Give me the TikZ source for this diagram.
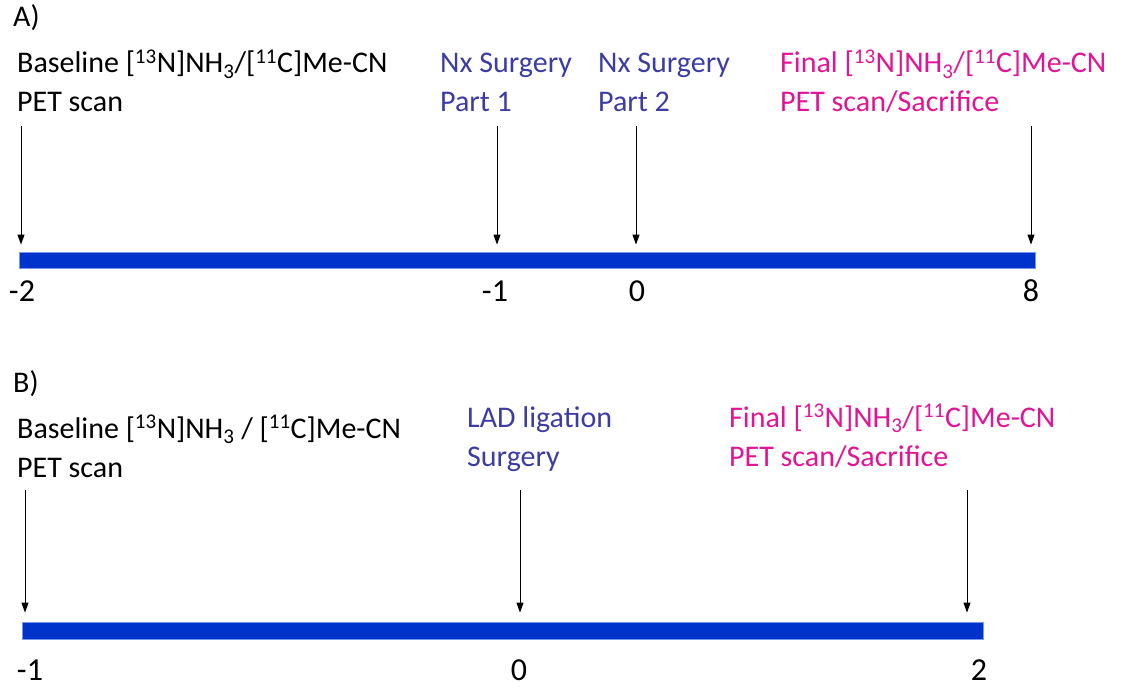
\documentclass[tikz,border=0pt]{standalone}
\usepackage{fontspec}
\setmainfont{Carlito}
\usetikzlibrary{arrows.meta}
\definecolor{barblue}{RGB}{0,51,204}
\definecolor{baredge}{RGB}{120,150,235}
\definecolor{surgblue}{RGB}{60,60,165}
\definecolor{finalpink}{RGB}{226,20,150}
\newcommand{\isoN}{[\textsuperscript{13}N]NH\textsubscript{3}}
\newcommand{\isoC}{[\textsuperscript{11}C]Me-CN}
\begin{document}
\begin{tikzpicture}[x=1pt,y=-1pt,
  lbl/.style={anchor=base west, inner sep=0pt, align=left, font=\fontsize{30}{39}\selectfont},
  num/.style={anchor=base, inner sep=0pt, font=\fontsize{32}{38}\selectfont},
  bar/.style={fill=barblue, draw=baredge, line width=0.8pt, inner sep=0pt},
  evt/.style={-{Triangle[length=10pt,width=7pt]}, line width=0.9pt},
]
\useasboundingbox (0,0) rectangle (1138,687);

% ---------- Panel A ----------
\node[lbl] (labA) at (13,27) {A)};
\node[lbl] (baseA) at (17,112) {Baseline \isoN/\isoC\\PET scan};
\node[lbl, text=surgblue] (nx1) at (440,112) {Nx Surgery\\Part 1};
\node[lbl, text=surgblue] (nx2) at (598,112) {Nx Surgery\\Part 2};
\node[lbl, text=finalpink] (finA) at (780,112) {Final \isoN/\isoC\\PET scan/Sacrifice};

\node[bar, minimum width=1016, minimum height=16] (barA) at (527,260) {};

\coordinate (a1) at (21,126);
\coordinate (a2) at (497,126);
\coordinate (a3) at (636,126);
\coordinate (a4) at (1031,126);
\foreach \c in {a1,a2,a3,a4}
  \draw[evt, shorten >=7pt] (\c) -- (\c |- barA.north);

\node[num] (tA1) at (22,301) {-2};
\node[num] (tA2) at (495,301) {-1};
\node[num] (tA3) at (637,301) {0};
\node[num] (tA4) at (1031,301) {8};

% ---------- Panel B ----------
\node[lbl] (labB) at (13,392) {B)};
\node[lbl] (baseB) at (17,477) {Baseline \isoN{} / \isoC\\PET scan};
\node[lbl, text=surgblue] (lad) at (467,466) {LAD ligation\\Surgery};
\node[lbl, text=finalpink] (finB) at (729,466) {Final \isoN/\isoC\\PET scan/Sacrifice};

\node[bar, minimum width=961, minimum height=17] (barB) at (502.5,630.5) {};

\coordinate (b1) at (25,490);
\coordinate (b2) at (520,490);
\coordinate (b3) at (967,490);
\foreach \c in {b1,b2,b3}
  \draw[evt, shorten >=9pt] (\c) -- (\c |- barB.north);

\node[num] (tB1) at (30,680) {-1};
\node[num] (tB2) at (519,680) {0};
\node[num] (tB3) at (979,680) {2};
\end{tikzpicture}
\end{document}
